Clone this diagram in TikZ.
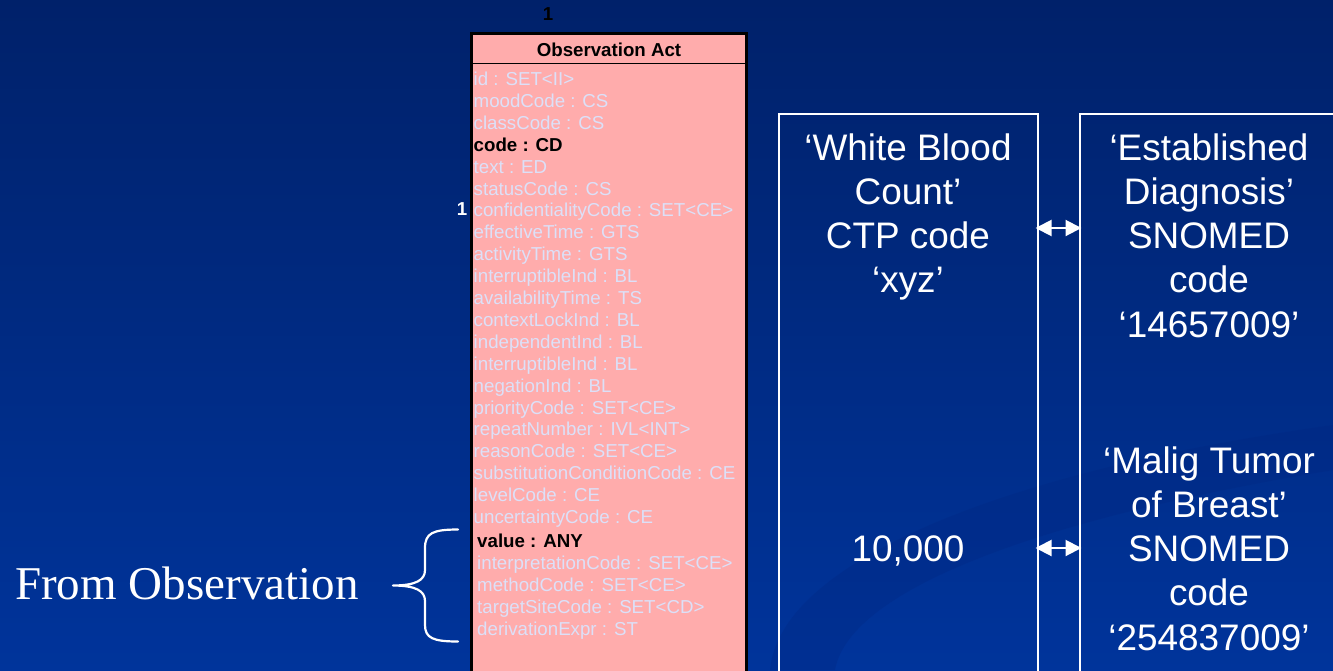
\documentclass[tikz,border=0pt]{standalone}
\usepackage{fontspec}
\setmainfont{Liberation Sans}
\newfontfamily\captionserif{Liberation Serif}
\usetikzlibrary{arrows.meta}

\definecolor{bgtop}{RGB}{0,33,106}
\definecolor{bgmid}{RGB}{0,48,146}
\definecolor{bgbot}{RGB}{0,52,155}
\definecolor{swoosh}{RGB}{0,38,128}
\definecolor{classpink}{RGB}{255,172,172}
\definecolor{attrgrey}{RGB}{220,224,248}

\begin{document}
\begin{tikzpicture}[x=1pt,y=-1pt,
  attr/.style={anchor=base west, inner sep=0pt, text=attrgrey,
    font=\fontsize{18.7}{22}\selectfont},
  attrkey/.style={attr, text=black, font=\fontsize{18.7}{22}\selectfont\bfseries},
  classbox/.style={draw=black, line width=3pt, fill=classpink, outer sep=0pt,
    inner sep=0pt, anchor=north west},
  framebox/.style={draw=white, line width=2pt, outer sep=0pt, inner sep=0pt,
    anchor=north west, minimum width=259pt, minimum height=600pt},
  bigtext/.style={text=white, align=center, inner sep=0pt, anchor=base,
    font=\fontsize{36.9}{44.3}\selectfont},
  mult/.style={anchor=base, inner sep=0pt, font=\fontsize{18.7}{22}\selectfont\bfseries},
  dbl/.style={white, line width=2pt, shorten <=-2pt, shorten >=-2pt,
    {Triangle[length=16pt,width=16pt]}-{Triangle[length=16pt,width=16pt]}},
  bracestyle/.style={white, line width=2.2pt, line cap=round, line join=round}
]
\useasboundingbox (0,0) rectangle (1333,670);
\clip (0,0) rectangle (1333,670);

% backdrop
\shade[top color=bgtop, middle color=bgmid, bottom color=bgbot] (0,0) rectangle (1333,670);
\fill[swoosh, opacity=0.3] (770,670) .. controls (780,560) and (1010,470) .. (1333,425)
  -- (1333,470) .. controls (1060,515) and (850,585) .. (835,670) -- cycle;

% class box
\node (obsbox) [classbox, minimum width=274.5pt, minimum height=660pt] at (471.5,33.5) {};
\draw[line width=1pt] (obsbox.west |- 0,63) -- (obsbox.east |- 0,63);
\node (title) [anchor=base, inner sep=0pt, font=\fontsize{18.7}{22}\selectfont\bfseries]
  at (609,56) {Observation Act};
\node (multtop) [mult, text=black] at (548,20) {1};
\node (multleft) [mult, text=white] at (462,215.5) {1};

% attributes
\foreach \i/\t in {0/{id : SET<II>},1/{moodCode : CS},2/{classCode : CS},
    4/{text : ED},5/{statusCode : CS},6/{confidentialityCode : SET<CE>},
    7/{effectiveTime : GTS},8/{activityTime : GTS},9/{interruptibleInd : BL},
    10/{availabilityTime : TS},11/{contextLockInd : BL},12/{independentInd : BL},
    13/{interruptibleInd : BL},14/{negationInd : BL},15/{priorityCode : SET<CE>},
    16/{repeatNumber : IVL<INT>},17/{reasonCode : SET<CE>},
    18/{substitutionConditionCode : CE},19/{levelCode : CE},20/{uncertaintyCode : CE}}
  \node (attr\i) [attr] at (473.5,{85.5+21.9*\i}) {\t};
\node (attr3) [attrkey] at (473.5,{85.5+21.9*3}) {code : CD};
\node (attr21) [attrkey] at (477,{87.5+21.9*21}) {value : ANY};
\foreach \i/\t in {22/{interpretationCode : SET<CE>},23/{methodCode : SET<CE>},
    24/{targetSiteCode : SET<CD>},25/{derivationExpr : ST}}
  \node (attr\i) [attr] at (477,{87.5+21.9*\i}) {\t};

% value boxes (multi-line texts sit on the baseline of their last line)
\node (ctpbox) [framebox] at (778.5,113.5) {};
\node (snomedbox) [framebox] at (1079.5,113.5) {};
\node (wbc) [bigtext] at (908,292.9) {‘White Blood\\Count’\\CTP code\\‘xyz’};
\node (tenk) [bigtext] at (908,561.6) {10,000};
\node (estdx) [bigtext] at (1209,337.2) {‘Established\\Diagnosis’\\SNOMED\\code\\‘14657009’};
\node (tumor) [bigtext] at (1209,650.2) {‘Malig Tumor\\of Breast’\\SNOMED\\code\\‘254837009’};

\draw[dbl] (ctpbox.east |- 0,228) -- (snomedbox.west |- 0,228);
\draw[dbl] (ctpbox.east |- 0,548) -- (snomedbox.west |- 0,548);

% brace and caption
\node (fromobs) [anchor=base west, inner sep=0pt, text=white,
  font=\captionserif\fontsize{47}{56}\selectfont] at (15,599) {From Observation};
\draw[bracestyle] (458,529.5) .. controls (433,529.5) and (425,533) .. (425,548)
  -- (425,570) .. controls (425,580) and (416,585.5) .. (393,585.5)
  .. controls (416,585.5) and (425,591) .. (425,601)
  -- (425,625) .. controls (425,638) and (433,641.5) .. (458,641.5);
\end{tikzpicture}
\end{document}
